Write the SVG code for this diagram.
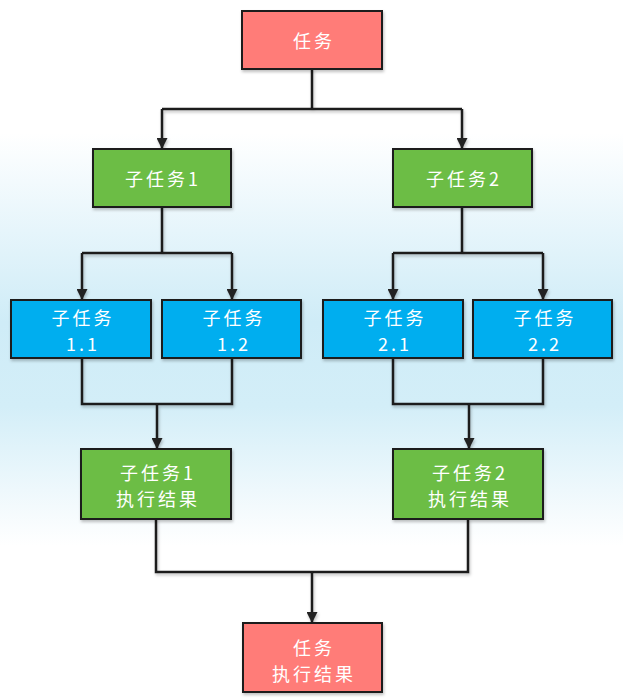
<svg xmlns="http://www.w3.org/2000/svg" width="623" height="700" viewBox="0 0 623 700">
<defs>
  <linearGradient id="bg" x1="0" y1="0" x2="0" y2="1">
    <stop offset="0" stop-color="#ffffff"/>
    <stop offset="0.19" stop-color="#ffffff"/>
    <stop offset="0.33" stop-color="#e6f5fb"/>
    <stop offset="0.46" stop-color="#cfecf7"/>
    <stop offset="0.58" stop-color="#d3eef8"/>
    <stop offset="0.70" stop-color="#eef8fc"/>
    <stop offset="0.78" stop-color="#ffffff"/>
    <stop offset="1" stop-color="#ffffff"/>
  </linearGradient>
  <filter id="sh" x="-10%" y="-10%" width="130%" height="140%">
    <feDropShadow dx="1" dy="2" stdDeviation="1.5" flood-color="#000" flood-opacity="0.25"/>
  </filter>
  <filter id="lsh" filterUnits="userSpaceOnUse" x="0" y="0" width="623" height="700">
    <feDropShadow dx="1" dy="2" stdDeviation="1.5" flood-color="#000" flood-opacity="0.25"/>
  </filter>
  <marker id="arr" viewBox="0 0 10 10" refX="10" refY="5" markerWidth="4.6" markerHeight="4.4" orient="auto" markerUnits="strokeWidth">
    <path d="M0,0 L10,5 L0,10 z" fill="#222"/>
  </marker>
  <style>
    .box { stroke: #1a1a1a; stroke-width: 2; filter: url(#sh); }
    .red { fill: #ff7b78; }
    .green { fill: #6cbd45; }
    .blue { fill: #00aeef; }
    .t { font-family: "Noto Sans CJK SC", "Noto Sans", sans-serif; font-size: 18px; fill: #ffffff; text-anchor: middle; letter-spacing: 3px; dominant-baseline: central; }
    .c { fill: none; stroke: #1a1a1a; stroke-width: 2.5; }
  </style>
</defs>
<rect x="0" y="0" width="623" height="700" fill="url(#bg)"/>

<g id="connectors" filter="url(#lsh)">
  <path class="c" d="M312,69 V109"/>
  <path class="c" d="M162,109 H462"/>
  <path class="c" d="M162,109 V149" marker-end="url(#arr)"/>
  <path class="c" d="M462,109 V149" marker-end="url(#arr)"/>

  <path class="c" d="M162,207 V253"/>
  <path class="c" d="M82,253 H232"/>
  <path class="c" d="M82,253 V300" marker-end="url(#arr)"/>
  <path class="c" d="M232,253 V300" marker-end="url(#arr)"/>

  <path class="c" d="M462,207 V253"/>
  <path class="c" d="M393,253 H543"/>
  <path class="c" d="M393,253 V300" marker-end="url(#arr)"/>
  <path class="c" d="M543,253 V300" marker-end="url(#arr)"/>

  <path class="c" d="M82,358 V404 H232 V358"/>
  <path class="c" d="M157,404 V449" marker-end="url(#arr)"/>
  <path class="c" d="M393,358 V404 H543 V358"/>
  <path class="c" d="M469,404 V449" marker-end="url(#arr)"/>

  <path class="c" d="M156,519 V572 H468 V519"/>
  <path class="c" d="M312,572 V623" marker-end="url(#arr)"/>
</g>

<g id="task">
  <rect class="box red" x="242" y="11" width="140" height="58"/>
  <text class="t" x="314" y="40">任务</text>
</g>
<g id="sub1">
  <rect class="box green" x="93" y="149" width="138" height="58"/>
  <text class="t" x="163" y="178">子任务1</text>
</g>
<g id="sub2">
  <rect class="box green" x="393" y="149" width="139" height="58"/>
  <text class="t" x="464" y="178">子任务2</text>
</g>
<g id="sub11">
  <rect class="box blue" x="11" y="300" width="140" height="58"/>
  <text class="t" x="83" y="317">子任务</text>
  <text class="t" x="83" y="343">1.1</text>
</g>
<g id="sub12">
  <rect class="box blue" x="162" y="300" width="139" height="58"/>
  <text class="t" x="234" y="317">子任务</text>
  <text class="t" x="234" y="343">1.2</text>
</g>
<g id="sub21">
  <rect class="box blue" x="323" y="300" width="140" height="58"/>
  <text class="t" x="395" y="317">子任务</text>
  <text class="t" x="395" y="343">2.1</text>
</g>
<g id="sub22">
  <rect class="box blue" x="473" y="300" width="139" height="58"/>
  <text class="t" x="545" y="317">子任务</text>
  <text class="t" x="545" y="343">2.2</text>
</g>
<g id="res1">
  <rect class="box green" x="81" y="449" width="150" height="70"/>
  <text class="t" x="158" y="472">子任务1</text>
  <text class="t" x="158" y="498">执行结果</text>
</g>
<g id="res2">
  <rect class="box green" x="393" y="449" width="150" height="70"/>
  <text class="t" x="470" y="472">子任务2</text>
  <text class="t" x="470" y="498">执行结果</text>
</g>
<g id="final">
  <rect class="box red" x="243" y="623" width="139" height="69"/>
  <text class="t" x="314" y="647">任务</text>
  <text class="t" x="314" y="673">执行结果</text>
</g>
</svg>
